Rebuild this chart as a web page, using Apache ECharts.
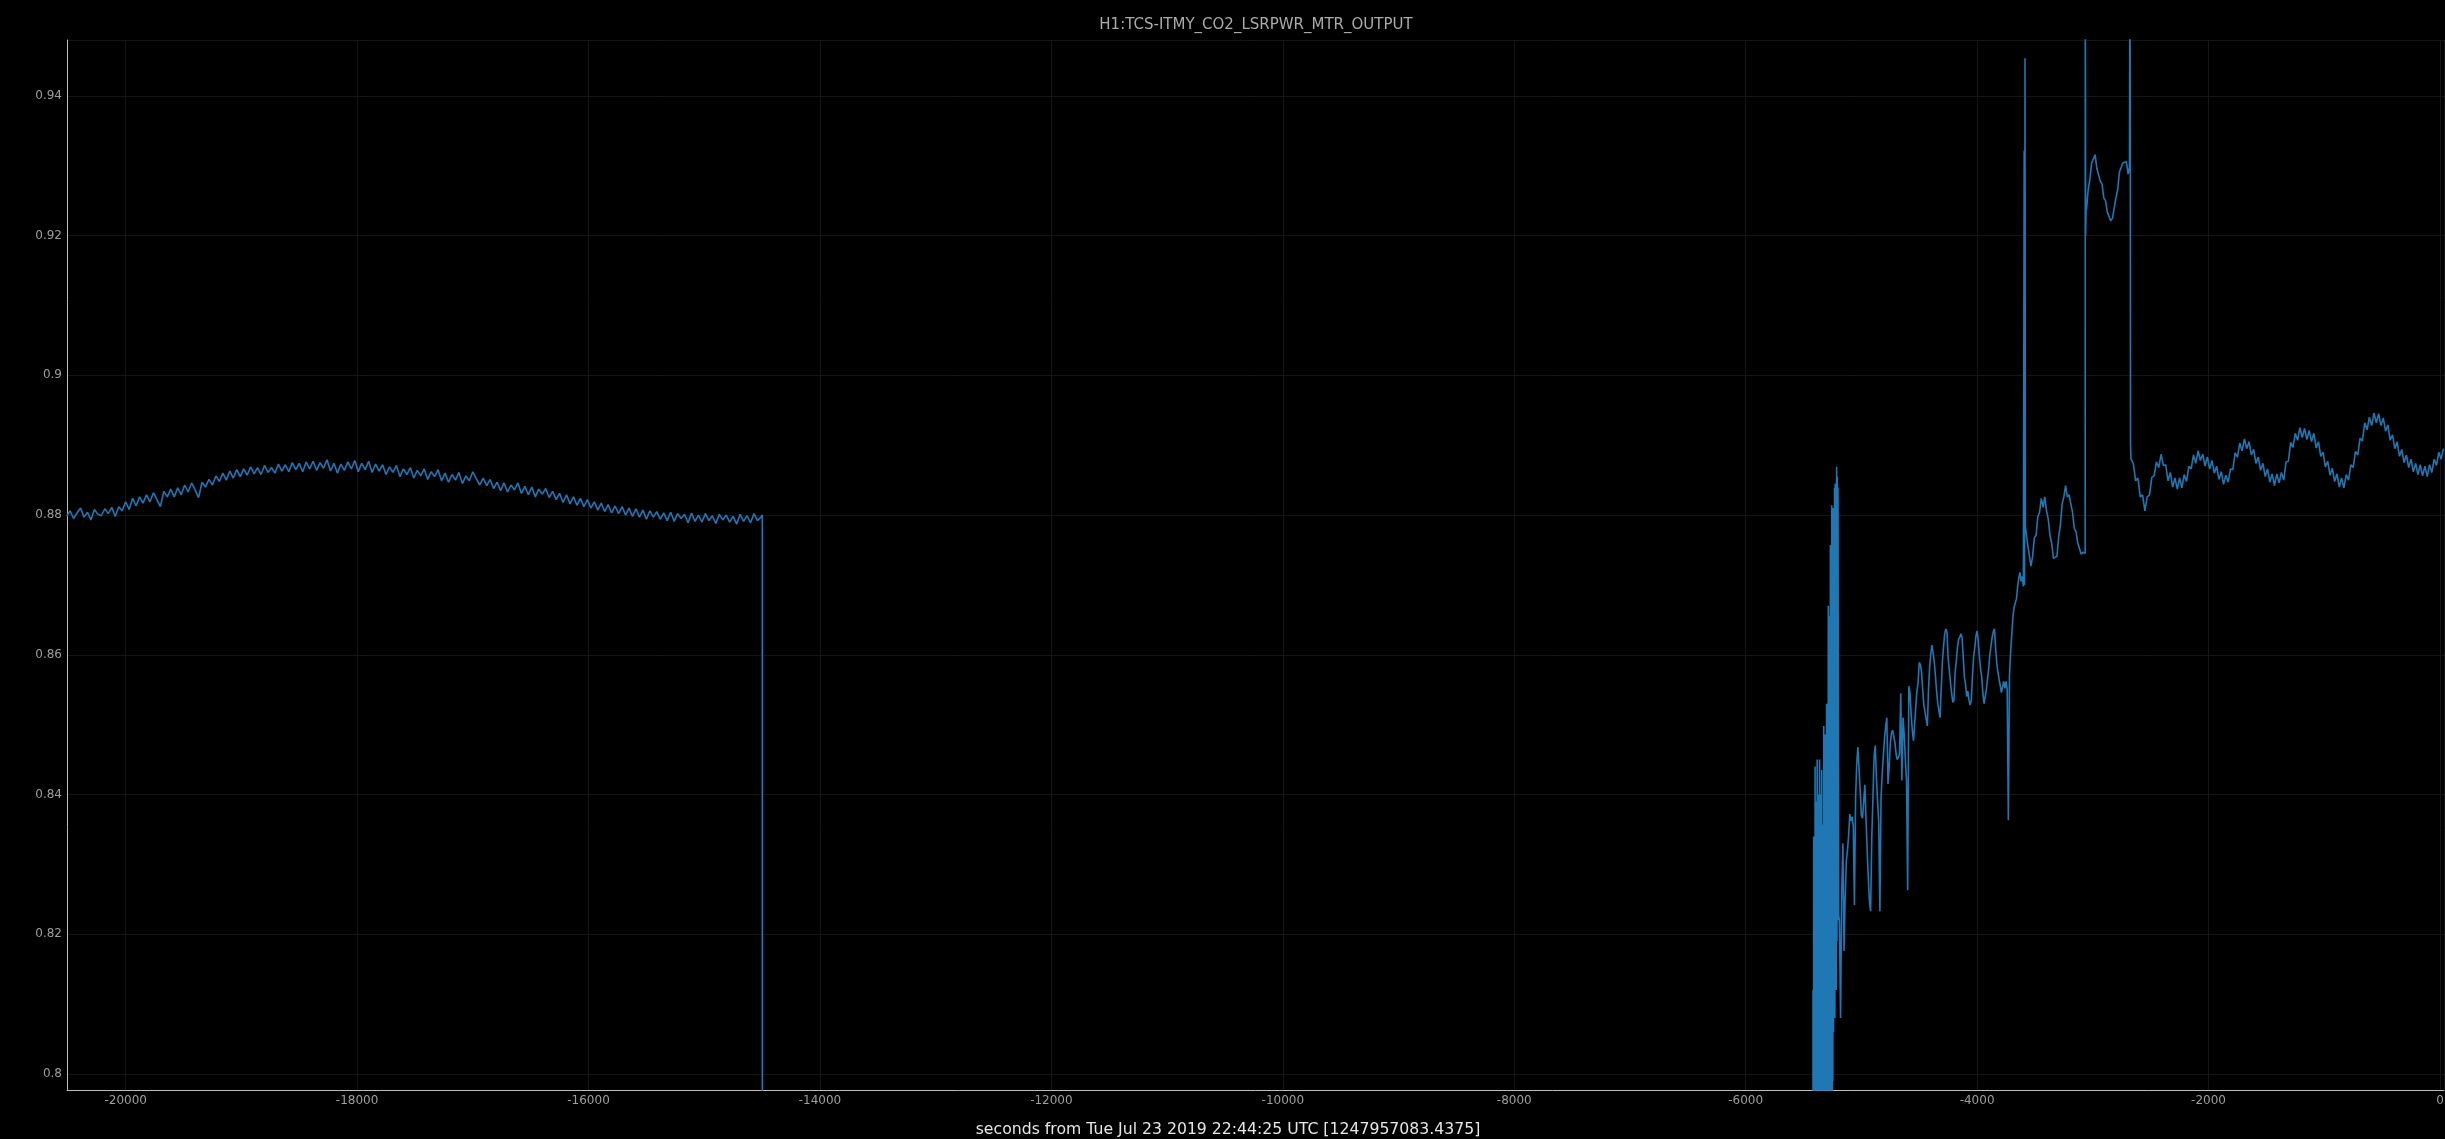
<!DOCTYPE html>
<html>
<head>
<meta charset="utf-8">
<script src="https://cdn.jsdelivr.net/npm/echarts@6/dist/echarts.min.js"></script>
<style>html,body{margin:0;padding:0;background:#000;}#c{width:2445px;height:1139px;}</style>
</head>
<body>
<div id="c"></div>
<script>
// ---- data (seconds relative to GPS 1247957083.4375, channel value) ----
const chartTitle = 'H1:TCS-ITMY_CO2_LSRPWR_MTR_OUTPUT';
const xAxisLabel = 'seconds from Tue Jul 23 2019 22:44:25 UTC [1247957083.4375]';

// segment 1: uniformly sampled, start/step in seconds
const seg1Start = -20510, seg1Step = 30;
const seg1Values = [
0.8798,0.8806,0.8795,0.8803,0.8810,0.8797,0.8804,0.8793,0.8808,0.8801,
0.8799,0.8809,0.8802,0.8811,0.8798,0.8812,0.8806,0.8819,0.8808,0.8824,
0.8813,0.8826,0.8817,0.8829,0.8819,0.8832,0.8822,0.8812,0.8834,0.8826,
0.8837,0.8826,0.8839,0.8829,0.8843,0.8833,0.8846,0.8836,0.8825,0.8847,
0.8840,0.8851,0.8843,0.8856,0.8848,0.8860,0.8850,0.8863,0.8853,0.8865,
0.8855,0.8866,0.8857,0.8869,0.8859,0.8868,0.8858,0.8871,0.8861,0.8868,
0.8860,0.8873,0.8863,0.8872,0.8862,0.8875,0.8865,0.8874,0.8862,0.8876,
0.8866,0.8877,0.8864,0.8875,0.8867,0.8879,0.8863,0.8874,0.8860,0.8873,
0.8864,0.8876,0.8866,0.8878,0.8862,0.8874,0.8865,0.8877,0.8861,0.8873,
0.8863,0.8872,0.8858,0.8869,0.8861,0.8871,0.8855,0.8866,0.8858,0.8868,
0.8853,0.8864,0.8856,0.8866,0.8851,0.8862,0.8855,0.8865,0.8849,0.8860,
0.8847,0.8858,0.8850,0.8861,0.8845,0.8856,0.8849,0.8862,0.8852,0.8843,
0.8853,0.8842,0.8851,0.8838,0.8847,0.8835,0.8846,0.8833,0.8843,0.8836,
0.8846,0.8831,0.8841,0.8829,0.8840,0.8826,0.8837,0.8830,0.8838,0.8825,
0.8834,0.8822,0.8831,0.8818,0.8829,0.8816,0.8826,0.8814,0.8824,0.8812,
0.8822,0.8810,0.8819,0.8807,0.8817,0.8805,0.8815,0.8803,0.8813,0.8802,
0.8812,0.8800,0.8810,0.8798,0.8809,0.8797,0.8807,0.8794,0.8806,0.8797,
0.8805,0.8794,0.8803,0.8792,0.8804,0.8791,0.8802,0.8795,0.8801,0.8789,
0.8803,0.8791,0.8800,0.8790,0.8802,0.8792,0.8799,0.8788,0.8801,0.8793,
0.8800,0.8790,0.8798,0.8787,0.8801,0.8791,0.8799,0.8789,0.8802,0.8792,
0.8797
];

// dropout: signal falls to zero (off-scale) and stays there
const dropPoints = [[-14498,0.8800],[-14497,0.0],[-5421,0.0]];

// restart: rapid oscillation [t, value]
const chaosPoints = [
[-5418,0.812],[-5415,0.70],[-5412,0.834],[-5409,0.70],[-5406,0.826],[-5403,0.70],
[-5400,0.844],[-5397,0.70],[-5394,0.839],[-5391,0.70],[-5388,0.831],[-5385,0.70],
[-5382,0.845],[-5379,0.70],[-5376,0.836],[-5373,0.70],[-5370,0.840],[-5367,0.70],
[-5364,0.828],[-5361,0.845],[-5358,0.70],[-5355,0.833],[-5352,0.70],[-5349,0.840],
[-5346,0.70],[-5343,0.8435],[-5340,0.70],[-5337,0.829],[-5334,0.70],[-5331,0.8357],
[-5328,0.70],[-5325,0.8498],[-5322,0.70],[-5319,0.838],[-5316,0.70],[-5313,0.8486],
[-5310,0.70],[-5307,0.842],[-5304,0.70],[-5301,0.853],[-5298,0.70],[-5295,0.846],
[-5292,0.853],[-5289,0.70],[-5286,0.867],[-5283,0.70],[-5280,0.8655],[-5277,0.70],
[-5274,0.858],[-5271,0.70],[-5268,0.8757],[-5265,0.70],[-5262,0.868],[-5259,0.70],
[-5256,0.8814],[-5253,0.70],[-5250,0.873],[-5247,0.799],[-5244,0.881],[-5241,0.806],
[-5238,0.878],[-5235,0.811],[-5232,0.8839],[-5229,0.808],[-5226,0.8845],[-5223,0.815],
[-5220,0.880],[-5217,0.812],[-5214,0.8869],[-5211,0.819],[-5208,0.8855],[-5205,0.822],
[-5202,0.8839],[-5199,0.8476],[-5196,0.8227]
];

// segment 2: recovery ramp
const seg2Start = -5190, seg2Step = 10;
const seg2Values = [
0.822,0.808,0.826,0.833,0.8176,0.8254,0.8305,0.832,0.8342,0.8372,
0.8362,0.8368,0.8355,0.8242,0.8395,0.8445,0.8468,0.8436,0.8405,0.837,
0.8366,0.839,0.8414,0.8365,0.832,0.828,0.8246,0.8233,0.834,0.8396,
0.8455,0.847,0.8424,0.839,0.836,0.8233,0.8396,0.843,0.8456,0.848,
0.8498,0.851,0.8415,0.844,0.8473,0.8488,0.8492,0.849,0.8474,0.8458,
0.845,0.8453,0.8458,0.8545,0.842,0.851,0.8486,0.845,0.842,0.8263,
0.8555,0.8546,0.8515,0.8492,0.8477,0.85,0.8525,0.8548,0.856,0.8589,
0.8586,0.8575,0.855,0.8528,0.8518,0.8516,0.8498,0.855,0.8583,0.8602,
0.8614,0.8616,0.859,0.857,0.8548,0.853,0.852,0.851,0.8552,0.859,
0.8612,0.863,0.8637,0.8632,0.8595,0.8578,0.856,0.8545,0.8532,0.8535,
0.8575,0.859,0.861,0.8622,0.8625,0.863,0.8625,0.8598,0.8568,0.8558,
0.854,0.8548,0.8535,0.8528,0.8535,0.857,0.8597,0.861,0.8627,0.8634,
0.862,0.8597,0.858,0.8568,0.8545,0.853,0.8528,0.855,0.8565,0.858,
0.86,0.8612,0.8625,0.8633,0.8637,0.861,0.8588,0.8575,0.8565,0.8556,
0.8546,0.8546,0.8562,0.8552,0.8562,0.855,0.8363,0.857,0.8605,0.863,
0.8655,0.8668,0.8674,0.868,0.8697,0.871,0.8718,0.8705,0.8712,0.8698
];

const spike1 = [[-3596,0.8698],[-3593,0.9322],[-3590,0.8700],[-3586,0.9454],[-3583,0.8784]];

const seg3Start = -3580, seg3Step = 15;
const seg3Values = [
0.8784,0.8760,0.8744,0.8727,0.8741,0.8768,0.8771,0.8798,0.8804,0.8824,
0.8811,0.8826,0.8806,0.8794,0.8771,0.8759,0.8738,0.8736,0.8741,0.8769,
0.8786,0.8816,0.8826,0.8842,0.8826,0.8829,0.8816,0.8804,0.8781,0.8776,
0.8760,0.8760,0.8744,0.8747,0.8746
];

const spike2 = [[-3066,0.8745],[-3065,0.960],[-3062,0.9200],[-3058,0.9245]];

const seg4Start = -3055, seg4Step = 15;
const seg4Values = [
0.9236,0.9266,0.9281,0.9304,0.9306,0.9316,0.9296,0.9298,0.9278,0.9274,
0.9254,0.9250,0.9234,0.9234,0.9221,0.9225,0.9226,0.9254,0.9266,0.9291,
0.9292,0.9304,0.9304,0.9306,0.9288
];

const spike3 = [[-2683,0.9298],[-2679,0.960],[-2676,0.9322],[-2674,0.8901]];

const seg5Start = -2670, seg5Step = 20;
const seg5Values = [
0.8880,0.8874,0.8849,0.8853,0.8826,0.8829,0.8806,0.8826,0.8829,0.8854,
0.8856,0.8876,0.8868,0.8887,0.8871,0.8872,0.8849,0.8861,0.8840,0.8853,
0.8837,0.8853,0.8839,0.8858,0.8848,0.8870,0.8866,0.8886,0.8874,0.8892,
0.8878,0.8887,0.8870,0.8883,0.8866,0.8878,0.8860,0.8870,0.8851,0.8862,
0.8844,0.8857,0.8847,0.8866,0.8865,0.8889,0.8883,0.8903,0.8892,0.8909,
0.8895,0.8905,0.8886,0.8894,0.8874,0.8883,0.8864,0.8874,0.8855,0.8866,
0.8847,0.8859,0.8842,0.8859,0.8846,0.8861,0.8850,0.8876,0.8877,0.8904,
0.8897,0.8917,0.8907,0.8925,0.8911,0.8924,0.8908,0.8921,0.8905,0.8917,
0.8896,0.8905,0.8884,0.8890,0.8869,0.8877,0.8857,0.8867,0.8848,0.8859,
0.8840,0.8853,0.8839,0.8858,0.8850,0.8872,0.8868,0.8891,0.8886,0.8910,
0.8906,0.8932,0.8922,0.8940,0.8928,0.8946,0.8932,0.8945,0.8928,0.8939,
0.8920,0.8929,0.8907,0.8915,0.8895,0.8905,0.8884,0.8894,0.8875,0.8886,
0.8868,0.8880,0.8862,0.8874,0.8858,0.8872,0.8856,0.8870,0.8855,0.8872,
0.8861,0.8880,0.8871,0.8890,0.8880,0.8895
];

// ---- build series ----
function uniform(start, step, values) { return values.map((v, i) => [start + i * step, v]); }
const seriesData = [].concat(
  uniform(seg1Start, seg1Step, seg1Values),
  dropPoints,
  chaosPoints,
  uniform(seg2Start, seg2Step, seg2Values),
  spike1,
  uniform(seg3Start, seg3Step, seg3Values),
  spike2,
  uniform(seg4Start, seg4Step, seg4Values),
  spike3,
  uniform(seg5Start, seg5Step, seg5Values)
);

const chart = echarts.init(document.getElementById('c'), null, {renderer: 'canvas'});
chart.setOption({
  backgroundColor: '#000000',
  animation: false,
  grid: {left: 67, right: 1, top: 40, bottom: 49, containLabel: false, outerBoundsMode: 'none'},
  xAxis: {
    type: 'value', min: -20507, max: 35, splitNumber: 10,
    axisLine: {show: true, onZero: false, lineStyle: {color: '#bdbdbd', width: 1}},
    axisTick: {show: false},
    axisLabel: {color: '#9e9e9e', fontSize: 12, fontFamily: 'DejaVu Sans', margin: 5,
      showMinLabel: false, showMaxLabel: false, formatter: v => String(v)},
    splitLine: {show: true, lineStyle: {color: '#151515', width: 1}}
  },
  yAxis: {
    type: 'value', min: 0.7977, max: 0.948, splitNumber: 7,
    axisLine: {show: true, onZero: false, lineStyle: {color: '#bdbdbd', width: 1}},
    axisTick: {show: false},
    axisLabel: {color: '#9e9e9e', fontSize: 12, fontFamily: 'DejaVu Sans', margin: 5,
      showMinLabel: false, showMaxLabel: false, formatter: v => String(Math.round(v * 100) / 100)},
    splitLine: {show: true, lineStyle: {color: '#151515', width: 1}}
  },
  series: [{
    type: 'line', data: seriesData, symbol: 'none', showSymbol: false, clip: true, silent: true,
    lineStyle: {color: '#1f77b4', width: 1.6}, itemStyle: {color: '#1f77b4'}
  }],
  graphic: [
    {type: 'text', x: 1256, y: 25, silent: true,
      style: {text: chartTitle, fill: '#ababab', fontSize: 15, fontFamily: 'DejaVu Sans',
        align: 'center', verticalAlign: 'middle', textAlign: 'center', textVerticalAlign: 'middle'}},
    {type: 'text', x: 1228, y: 1130, silent: true,
      style: {text: xAxisLabel, fill: '#e6e6e6', fontSize: 15.7, fontFamily: 'DejaVu Sans',
        align: 'center', verticalAlign: 'middle', textAlign: 'center', textVerticalAlign: 'middle'}}
  ]
});
</script>
</body>
</html>
